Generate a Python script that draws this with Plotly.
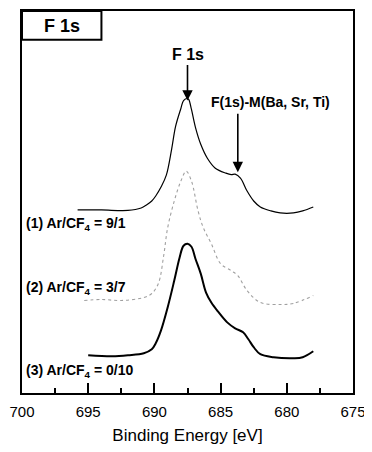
import plotly.graph_objects as go

# Binding energies (eV) and displayed intensities (arb. units, offset stacked)
e1 = [695.8, 694.0, 692.0, 691.0, 690.6, 690.2, 689.9, 689.5, 689.1, 688.7, 688.4, 688.0, 687.8,
      687.5, 687.4, 687.2, 686.9, 686.5, 686.0, 685.4, 684.6, 684.2, 683.9, 683.5, 683.0, 682.5,
      682.0, 681.2, 680.5, 679.5, 678.8, 678.0]
i1 = [184, 184, 183.5, 186, 189, 193, 198, 207, 219, 245, 268, 286, 294,
      296, 295, 285, 267, 250, 236, 226, 221, 219.5, 220, 216, 203, 193,
      187, 183, 181, 181, 183, 187]

e2 = [695.3, 694.0, 692.5, 690.8, 690.2, 689.7, 689.3, 689.0, 688.5, 688.0, 687.6, 687.2, 686.7,
      686.3, 685.7, 685.0, 684.2, 683.7, 683.0, 682.0, 680.5, 679.5, 678.0]
i2 = [93, 94, 93, 96, 100, 110, 138, 166, 193, 213, 223, 213, 183,
      166, 150, 130, 123, 118, 103, 91, 89, 90, 98]

e3 = [695.0, 693.2, 692.0, 690.8, 690.2, 689.9, 689.5, 689.0, 688.5, 688.1, 687.8, 687.5, 687.2,
      686.9, 686.5, 686.1, 685.7, 685.2, 684.5, 683.9, 683.3, 682.9, 682.5, 682.0, 681.0, 679.5,
      678.8, 678.0]
i3 = [38, 37, 38, 40, 44, 50, 63, 86, 113, 136, 148, 150, 147,
      135, 120, 101, 91, 82, 71, 65, 61, 54, 46, 39, 36, 35,
      36, 42]

labels = ["<b>(1) Ar/CF<sub>4</sub> = 9/1</b>", "<b>(2) Ar/CF<sub>4</sub> = 3/7</b>",
          "<b>(3) Ar/CF<sub>4</sub> = 0/10</b>"]
label_y = [170, 106, 22]

x_ticks = [700, 695, 690, 685, 680, 675]

FONT = "Liberation Sans, Arial, sans-serif"

fig = go.Figure()
fig.add_trace(go.Scatter(x=e1, y=i1, mode="lines",
                         line=dict(color="black", width=1.2, shape="spline", smoothing=1.0)))
fig.add_trace(go.Scatter(x=e2, y=i2, mode="lines",
                         line=dict(color="#a0a0a0", width=1.1, dash="dot", shape="spline", smoothing=1.0)))
fig.add_trace(go.Scatter(x=e3, y=i3, mode="lines",
                         line=dict(color="black", width=2, shape="spline", smoothing=1.0)))

for t, y in zip(labels, label_y):
    fig.add_annotation(x=0.005, xref="paper", y=y, yref="y", text=t, showarrow=False,
                       xanchor="left", yanchor="middle",
                       font=dict(family=FONT, size=14, color="black"))

# inset title box
fig.add_shape(type="rect", xref="paper", yref="paper", x0=0, x1=0.24, y0=0.9245, y1=1,
              line=dict(color="black", width=2), fillcolor="white")
fig.add_annotation(x=0.12, xref="paper", y=0.962, yref="paper", text="<b>F 1s</b>", showarrow=False,
                   xanchor="center", yanchor="middle",
                   font=dict(family=FONT, size=18, color="black"))

# F 1s peak label and arrow
fig.add_annotation(x=687.5, y=340, text="<b>F 1s</b>", showarrow=False,
                   xanchor="center", yanchor="middle",
                   font=dict(family=FONT, size=16, color="black"))
fig.add_annotation(x=687.5, y=294, text="", showarrow=True, ax=0, ay=-37,
                   arrowhead=2, arrowsize=1.3, arrowwidth=1.6, arrowcolor="black")

# shoulder label and arrow
fig.add_annotation(x=681.2, y=293, text="<b>F(1s)-M(Ba, Sr, Ti)</b>", showarrow=False,
                   xanchor="center", yanchor="middle",
                   font=dict(family=FONT, size=14, color="black"))
fig.add_annotation(x=683.7, y=222, text="", showarrow=True, ax=0, ay=-60,
                   arrowhead=2, arrowsize=1.3, arrowwidth=1.6, arrowcolor="black")

fig.update_xaxes(range=[700, 675], tickvals=x_ticks, ticks="inside", ticklen=10, tickwidth=1.5,
                 tickcolor="black", showline=True, linecolor="black", linewidth=2, mirror=True,
                 showgrid=False, zeroline=False, ticklabelstandoff=4, ticklabeloverflow="allow",
                 minor=dict(dtick=2.5, tick0=700, ticks="inside", ticklen=5, tickwidth=1.5, tickcolor="black"),
                 tickfont=dict(family=FONT, size=15, color="black"),
                 title=dict(text="Binding Energy [eV]", font=dict(family=FONT, size=17, color="black"), standoff=10))
fig.update_yaxes(range=[0, 384], showticklabels=False, ticks="", showline=True, linecolor="black",
                 linewidth=2, mirror=True, showgrid=False, zeroline=False)

fig.update_layout(width=364, height=444, margin=dict(l=12, r=19, t=1, b=59),
                  plot_bgcolor="white", paper_bgcolor="white", showlegend=False)

fig.write_html("out.html")
